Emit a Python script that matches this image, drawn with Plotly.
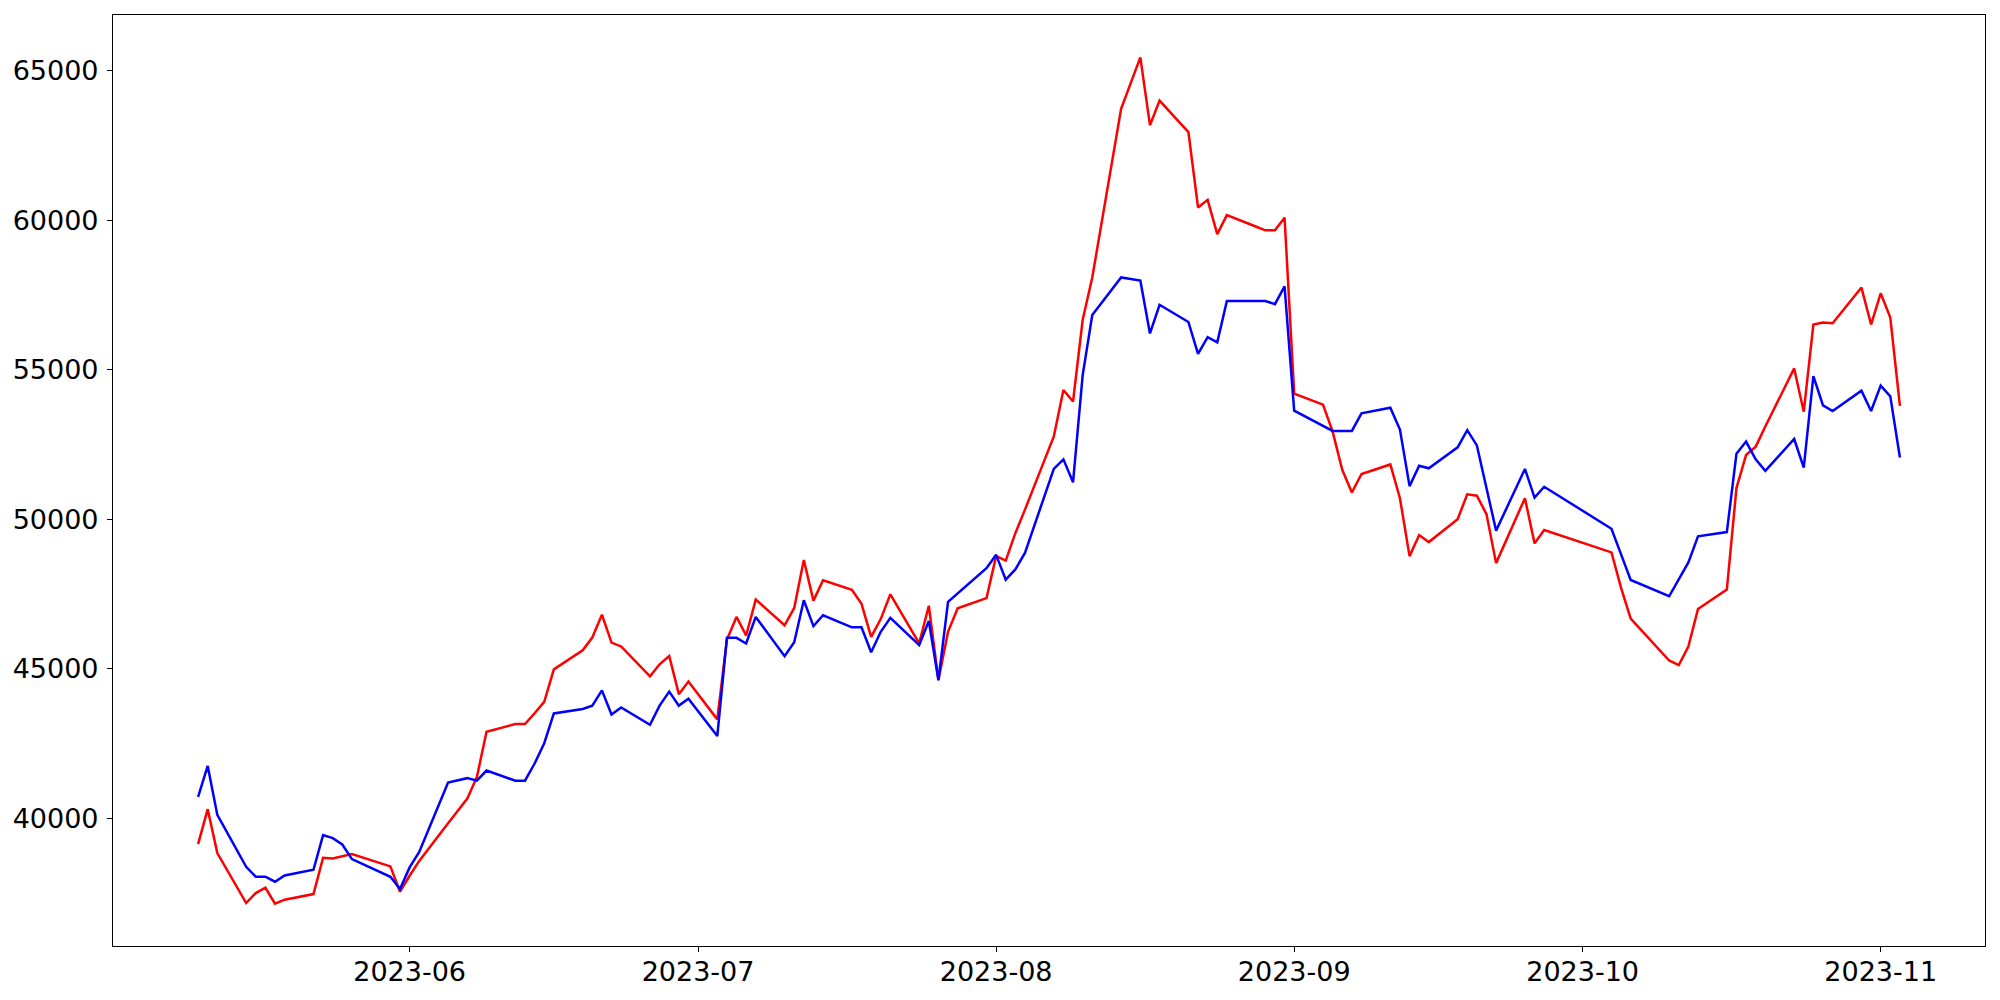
import pandas as pd
import plotly.graph_objects as go

dates = [
    "2023-05-10", "2023-05-11", "2023-05-12", "2023-05-15", "2023-05-16", "2023-05-17", "2023-05-18", "2023-05-19",
    "2023-05-22", "2023-05-23", "2023-05-24", "2023-05-25", "2023-05-26", "2023-05-30", "2023-05-31",
    "2023-06-01", "2023-06-02", "2023-06-05", "2023-06-07", "2023-06-08", "2023-06-09",
    "2023-06-12", "2023-06-13", "2023-06-14", "2023-06-15", "2023-06-16",
    "2023-06-19", "2023-06-20", "2023-06-21", "2023-06-22", "2023-06-23",
    "2023-06-26", "2023-06-27", "2023-06-28", "2023-06-29", "2023-06-30",
    "2023-07-03", "2023-07-04", "2023-07-05", "2023-07-06", "2023-07-07",
    "2023-07-10", "2023-07-11", "2023-07-12", "2023-07-13", "2023-07-14",
    "2023-07-17", "2023-07-18", "2023-07-19", "2023-07-20", "2023-07-21",
    "2023-07-24", "2023-07-25", "2023-07-26", "2023-07-27", "2023-07-28",
    "2023-07-31", "2023-08-01", "2023-08-02", "2023-08-03", "2023-08-04",
    "2023-08-07", "2023-08-08", "2023-08-09", "2023-08-10", "2023-08-11",
    "2023-08-14", "2023-08-16", "2023-08-17", "2023-08-18",
    "2023-08-21", "2023-08-22", "2023-08-23", "2023-08-24", "2023-08-25",
    "2023-08-28", "2023-08-29", "2023-08-30", "2023-08-31", "2023-09-01",
    "2023-09-04", "2023-09-05", "2023-09-06", "2023-09-07", "2023-09-08",
    "2023-09-11", "2023-09-12", "2023-09-13", "2023-09-14", "2023-09-15",
    "2023-09-18", "2023-09-19", "2023-09-20", "2023-09-21", "2023-09-22",
    "2023-09-25", "2023-09-26", "2023-09-27",
    "2023-10-04", "2023-10-05", "2023-10-06",
    "2023-10-10", "2023-10-11", "2023-10-12", "2023-10-13",
    "2023-10-16", "2023-10-17", "2023-10-18", "2023-10-19", "2023-10-20",
    "2023-10-23", "2023-10-24", "2023-10-25", "2023-10-26", "2023-10-27",
    "2023-10-30", "2023-10-31", "2023-11-01", "2023-11-02", "2023-11-03",
]

red_values = [
    39130, 40299, 38830, 37161, 37495, 37672, 37139, 37273,
    37461, 38674, 38652, 38720, 38797, 38385, 37539,
    38073, 38570, 39826, 40656, 41379, 42890,
    43145, 43145, 43507, 43890, 44976,
    45614, 46040, 46806, 45869, 45742,
    44741, 45146, 45422, 44146, 44571,
    43303, 45973, 46730, 46107, 47309,
    46451, 47030, 48636, 47274, 47955,
    47636, 47167, 46061, 46657, 47487,
    45848, 47104, 44614, 46231, 47018,
    47359, 48763, 48614, 49529, 50317,
    52764, 54317, 53934, 56658, 58084,
    63721, 65445, 63175, 63999,
    62942, 60425, 60680, 59531, 60169,
    59786, 59659, 59659, 60082, 54200,
    53829, 52928, 51650, 50891, 51508,
    51828, 50700, 48763, 49466, 49232,
    49998, 50828, 50785, 50168, 48529,
    50700, 49189, 49636,
    48889, 47700, 46674,
    45272, 45117, 45740, 46997,
    47642, 51040, 52147, 52424, 53096,
    55041, 53594, 56509, 56573, 56552,
    57744, 56509, 57552, 56743, 53785,
]

blue_values = [
    40710, 41745, 40109, 38373, 38040, 38040, 37873, 38085,
    38274, 39431, 39331, 39120, 38630, 38040, 37628,
    38352, 38868, 41188, 41337, 41252, 41592,
    41252, 41252, 41826, 42507, 43500,
    43650, 43763, 44273, 43465, 43699,
    43124, 43763, 44231, 43763, 43997,
    42746, 46029, 46029, 45840, 46730,
    45417, 45885, 47286, 46423, 46784,
    46380, 46380, 45550, 46231, 46699,
    45784, 46593, 44614, 47231, 47508,
    48359, 48806, 47976, 48316, 48870,
    51679, 51998, 51232, 54807, 56828,
    58084, 57978, 56211, 57169,
    56594, 55530, 56084, 55913, 57297,
    57297, 57297, 57190, 57786, 53628,
    53120, 52950, 52950, 52950, 53540,
    53728, 52998, 51104, 51785, 51700,
    52402, 52977, 52466, 51040, 49615,
    51679, 50721, 51083,
    49679, 48820, 47964,
    47420, 47987, 48554, 49423,
    49567, 52189, 52594, 51998, 51615,
    52679, 51721, 54786, 53807, 53615,
    54296, 53615, 54466, 54105, 52062,
]

y_ticks = [40000, 45000, 50000, 55000, 60000, 65000]
x_ticks = ["2023-06-01", "2023-07-01", "2023-08-01", "2023-09-01", "2023-10-01", "2023-11-01"]
x_tick_labels = ["2023-06", "2023-07", "2023-08", "2023-09", "2023-10", "2023-11"]

x = pd.to_datetime(dates)

# matplotlib-like 5% auto margins
xmin, xmax = x.min(), x.max()
xpad = (xmax - xmin) * 0.05
all_y = red_values + blue_values
ymin, ymax = min(all_y), max(all_y)
ypad = (ymax - ymin) * 0.05

fig = go.Figure()
fig.add_trace(go.Scatter(x=x, y=red_values, mode="lines",
                         line=dict(color="#ff0000", width=2.5), showlegend=False))
fig.add_trace(go.Scatter(x=x, y=blue_values, mode="lines",
                         line=dict(color="#0000ff", width=2.5), showlegend=False))

axis_common = dict(
    showgrid=False, zeroline=False, showline=True, linecolor="black", linewidth=1.1,
    mirror=True, ticks="outside", ticklen=5, tickwidth=1.1, tickcolor="black",
    automargin=False,
    tickfont=dict(family="DejaVu Sans", size=27, color="black"),
)

# page body has an 8px default margin, so the figure is sized to fit the window
fig.update_layout(
    width=1992, height=992,
    margin=dict(l=105, r=15, t=7, b=54, pad=0),
    paper_bgcolor="white", plot_bgcolor="white",
    font=dict(family="DejaVu Sans", size=27, color="black"),
    xaxis=dict(type="date", range=[xmin - xpad, xmax + xpad],
               tickmode="array", tickvals=pd.to_datetime(x_ticks), ticktext=x_tick_labels,
               ticklabelstandoff=-3, **axis_common),
    yaxis=dict(range=[ymin - ypad, ymax + ypad], tickmode="array", tickvals=y_ticks,
               ticktext=[str(v) for v in y_ticks], ticklabelstandoff=3, **axis_common),
)

fig.write_html("out.html")
